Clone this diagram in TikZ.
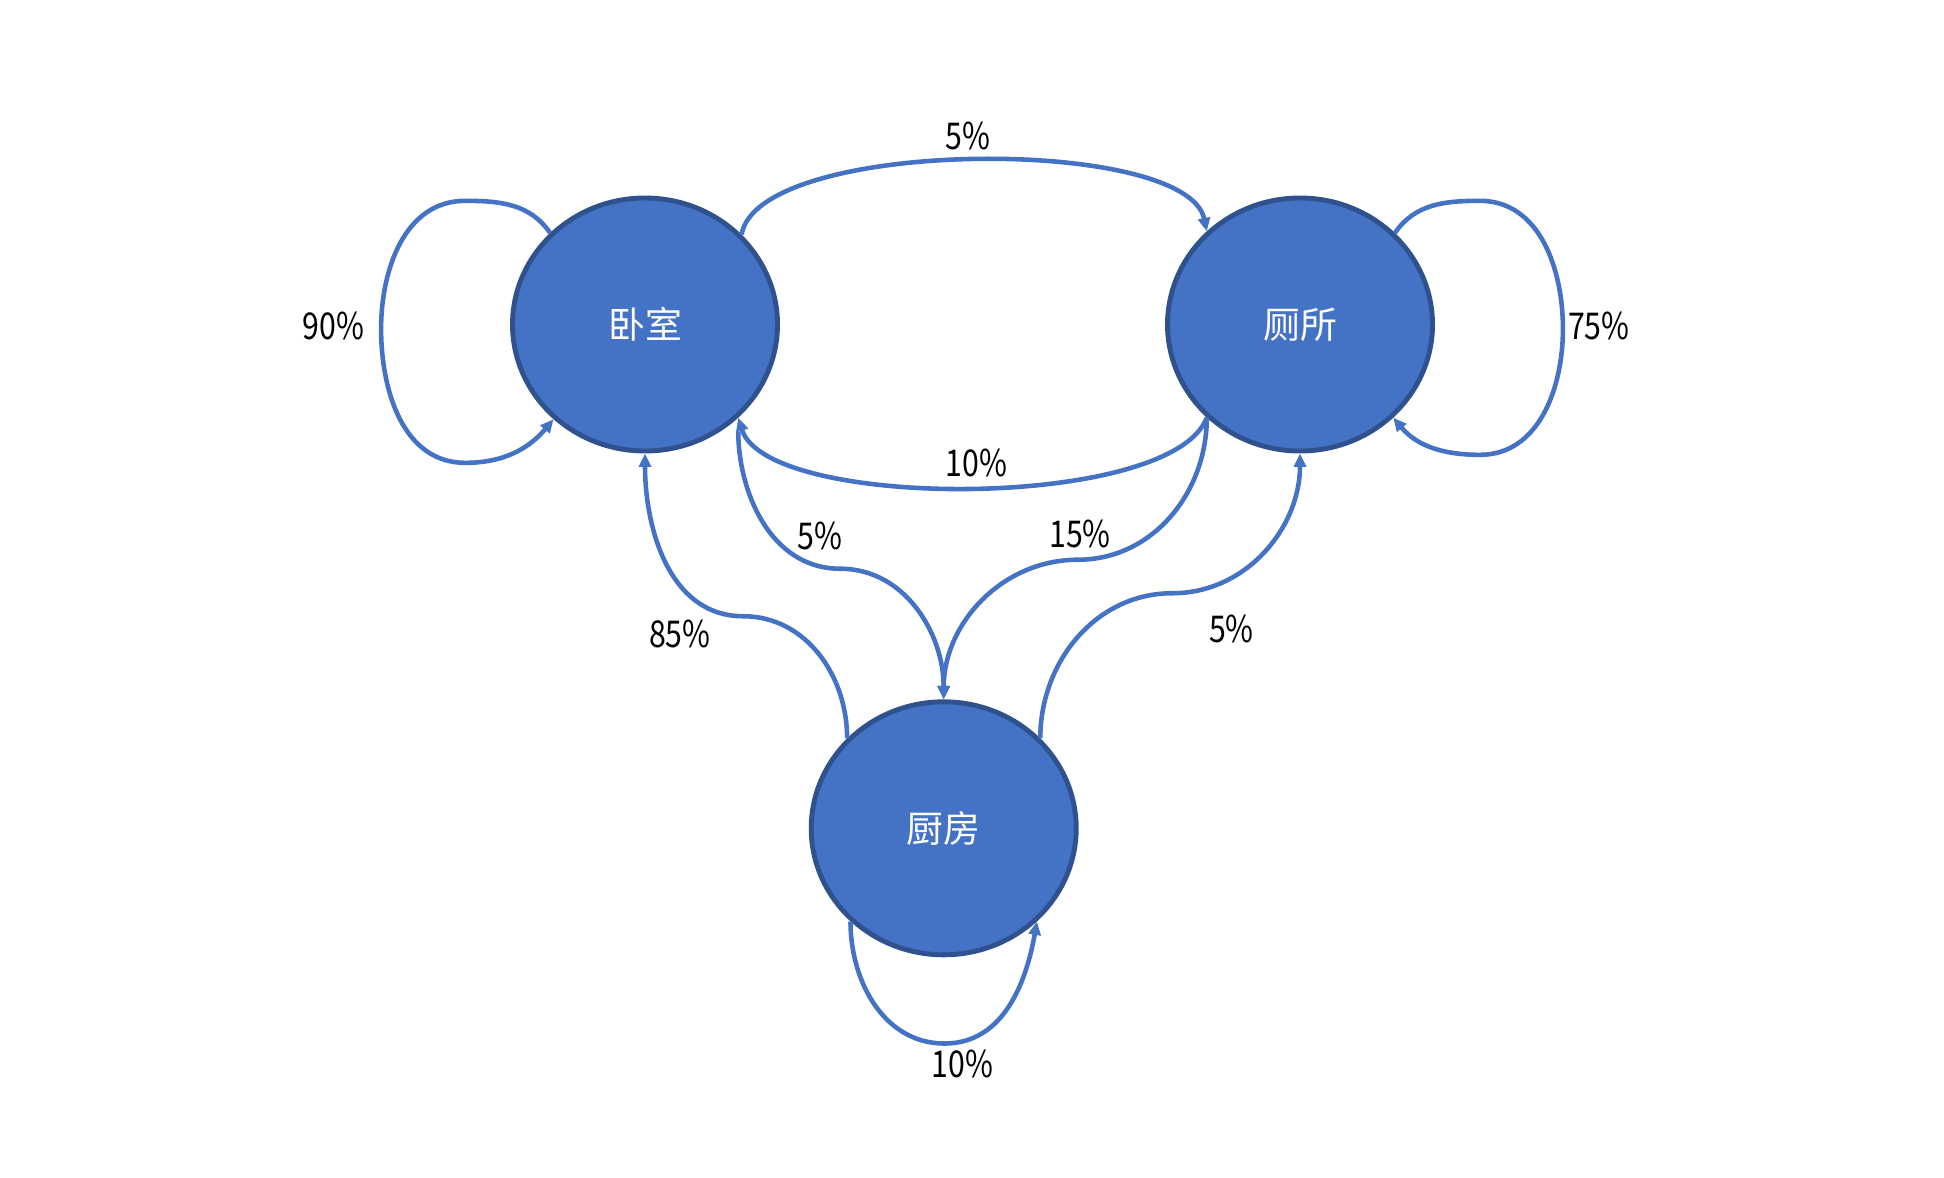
\documentclass[tikz,border=0pt]{standalone}
\usepackage{fontspec}
\setmainfont{Noto Sans CJK SC}
\newfontfamily\pctfont[FakeStretch=0.82]{Noto Sans CJK SC}
\usetikzlibrary{arrows.meta,shapes.geometric,positioning}
\definecolor{roomblue}{HTML}{4472C4}
\definecolor{rimblue}{HTML}{2F528F}

\begin{document}
\begin{tikzpicture}[
  room/.style={ellipse, fill=roomblue, draw=rimblue, line width=1.4pt, minimum width=2.65cm, minimum height=2.53cm, text=white, font=\fontsize{10.5}{12}\selectfont},
  link/.style={draw=roomblue, line width=1.3pt, -{Triangle[length=3.8pt,width=3.4pt]}},
  lbl/.style={font=\pctfont\fontsize{10.5}{12}\selectfont}]
\useasboundingbox (0,0) rectangle (19.44,11.77);
\node[room] (bed) at (6.45,8.525) {卧室};
\node[room] (bath) at (13.0,8.525) {厕所};
\node[room] (kit) at (9.437,3.487) {厨房};
% self loops
\draw[link] (bed.136) to[out=125,in=0] ++(-0.85,0.32) to[out=180,in=90] ++(-0.84,-1.28) to[out=-90,in=180] ++(0.84,-1.34) to[out=0,in=-130] (bed.226);
\draw[link] (bath.44) to[out=55,in=180] ++(0.85,0.32) to[out=0,in=90] ++(0.83,-1.28) to[out=-90,in=0] ++(-0.83,-1.26) to[out=180,in=-50] (bath.-45);
\draw[link] (kit.225) to[out=-90,in=180] ++(0.94,-1.22) to[out=0,in=-100] (kit.-45);
% between the rooms
\draw[link] (bed.43) .. controls +(0.17,0.97) and +(-0.20,0.96) .. (bath.135);
\draw[link] (bath.225) .. controls +(-0.35,-0.93) and +(0.29,-0.93) .. (bed.-45);
\draw[link, shorten <=0.14cm] (bed.-45) to[out=-90,in=180] ++(1.02,-1.51) to[out=0,in=90] (kit.north);
\draw[link] (bath.225) to[out=-90,in=0] ++(-1.29,-1.42) to[out=180,in=90] (kit.north);
\draw[link] (kit.137) to[out=90,in=0] ++(-1.04,1.22) to[out=180,in=-90] (bed.south);
\draw[link] (kit.43) to[out=90,in=180] ++(1.32,1.45) to[out=0,in=-90] (bath.south);
% labels
\node[lbl] (p90) at (3.335,8.515) {90\%};
\node[lbl] (p75) at (15.988,8.515) {75\%};
\node[lbl] (p5top) at (9.676,10.406) {5\%};
\node[lbl] (p10mid) at (9.766,7.141) {10\%};
\node[lbl] (p5left) at (8.203,6.414) {5\%};
\node[lbl] (p15) at (10.801,6.434) {15\%};
\node[lbl] (p85) at (6.799,5.429) {85\%};
\node[lbl] (p5right) at (12.314,5.478) {5\%};
\node[lbl] (p10low) at (9.626,1.128) {10\%};
\end{tikzpicture}
\end{document}
